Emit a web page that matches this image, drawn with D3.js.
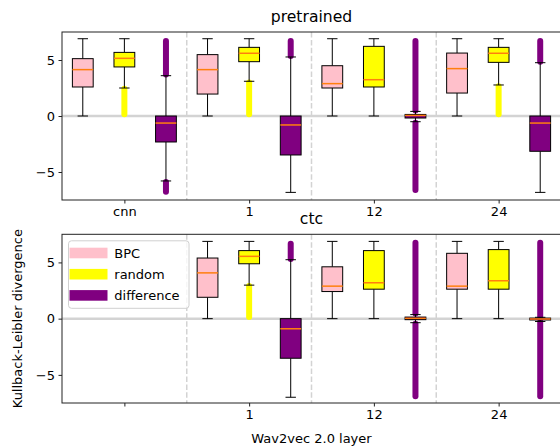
<!DOCTYPE html>
<html lang="en">
  <head>
    <meta charset="utf-8" />
    <title>KL divergence per layer</title>
    <script src="https://cdnjs.cloudflare.com/ajax/libs/d3/7.8.5/d3.min.js"></script>
    <style>
      body { margin: 0; background: #fff; }
      svg { display: block; font-family: "DejaVu Sans", sans-serif; }
    </style>
  </head>
  <body>
    <script>
      // categories
      var layers = ["cnn", "1", "12", "24"];
      var series = ["BPC", "random", "difference"];
      var colors = ["pink", "yellow", "purple"];
      var yTicks = [-5, 0, 5];

      // box stats: [whisker low, q1, median, q3, whisker high], null = no box
      var pretrainedBPC = [[0, 2.59, 4.14, 5.12, 6.9], [0, 1.96, 4.14, 5.48, 6.9], [0, 2.5, 2.89, 4.49, 6.9], [0, 2.05, 4.23, 5.62, 6.9]];
      var pretrainedRandom = [[2.5, 4.38, 5.15, 5.68, 6.9], [3.1, 4.85, 5.6, 6.13, 6.9], [0, 2.59, 3.24, 6.22, 6.9], [2.77, 4.79, 5.6, 6.13, 6.9]];
      var pretrainedDiff = [[-5.8, -2.32, -0.63, 0, 3.6], [-6.82, -3.48, -0.8, 0, 5.27], [-0.51, -0.18, 0.05, 0.14, 0.41], [-6.82, -3.15, -0.63, 0, 4.76]];
      var ctcBPC = [null, [0, 1.9, 4.07, 5.39, 6.87], [0, 2.41, 2.89, 4.61, 6.87], [0, 2.62, 2.89, 5.81, 6.87]];
      var ctcRandom = [null, [2.98, 4.88, 5.54, 6.05, 6.87], [0, 2.62, 3.19, 6.05, 6.87], [0, 2.62, 3.37, 6.14, 6.87]];
      var ctcDiff = [null, [-6.99, -3.52, -0.9, 0, 5.24], [-0.36, -0.09, 0.03, 0.14, 0.36], [-0.25, -0.12, -0.03, 0.05, 0.12]];

      // outlier ranges [low, high] (drawn as dense markers)
      var pretrainedBPCFliers = [[], [], [], []];
      var pretrainedRandomFliers = [[[0.15, 2.44]], [[0.15, 3.0]], [], [[0.15, 2.65]]];
      var pretrainedDiffFliers = [[[3.7, 6.7], [-6.76, -5.9]], [[5.35, 6.7]], [[0.5, 6.7], [-6.6, -0.6]], [[4.85, 6.7]]];
      var ctcBPCFliers = [[], [], [], []];
      var ctcRandomFliers = [[], [[0.15, 2.9]], [], []];
      var ctcDiffFliers = [[], [[5.3, 6.65]], [[0.45, 6.74], [-6.9, -0.45]], [[0.2, 6.74], [-6.9, -0.3]]];

      var W = 560, H = 447;
      var left = 62, right = 561;

      var svg = d3.select("body").append("svg").attr("width", W).attr("height", H);

      var x = d3.scaleLinear().domain([-0.5, 11.5]).range([left, right]);
      var boxW = x(0.5) - x(0);

      function panel(top, bottom, title, stats, fliers, tickLabels, legend) {
        var y = d3.scaleLinear().domain([-7.5, 7.5]).range([bottom, top]);
        var g = svg.append("g");

        // zero line
        g.append("line")
          .attr("x1", left).attr("x2", right)
          .attr("y1", y(0)).attr("y2", y(0))
          .attr("stroke", "#d3d3d3").attr("stroke-width", 2.5);

        // separators
        for (var k = 0; k < layers.length - 1; k++) {
          g.append("line")
            .attr("x1", x(3 * k + 2.5)).attr("x2", x(3 * k + 2.5))
            .attr("y1", top).attr("y2", bottom)
            .attr("stroke", "#d3d3d3").attr("stroke-width", 1.5)
            .attr("stroke-dasharray", "5.5,2.4");
        }

        for (var s = 0; s < series.length; s++) {
          for (var i = 0; i < layers.length; i++) {
            var cx = x(3 * i + s);
            // fliers
            fliers[s][i].forEach(function (r) {
              g.append("line")
                .attr("x1", cx).attr("x2", cx)
                .attr("y1", y(r[0])).attr("y2", y(r[1]))
                .attr("stroke", colors[s]).attr("stroke-width", 6)
                .attr("stroke-linecap", "round");
            });
            var d = stats[s][i];
            if (!d) continue;
            // whiskers
            g.append("line").attr("x1", cx).attr("x2", cx)
              .attr("y1", y(d[0])).attr("y2", y(d[1]))
              .attr("stroke", "#000").attr("stroke-width", 1);
            g.append("line").attr("x1", cx).attr("x2", cx)
              .attr("y1", y(d[3])).attr("y2", y(d[4]))
              .attr("stroke", "#000").attr("stroke-width", 1);
            [d[0], d[4]].forEach(function (v) {
              g.append("line")
                .attr("x1", cx - boxW / 4).attr("x2", cx + boxW / 4)
                .attr("y1", y(v)).attr("y2", y(v))
                .attr("stroke", "#000").attr("stroke-width", 1);
            });
            // box
            g.append("rect")
              .attr("x", cx - boxW / 2).attr("width", boxW)
              .attr("y", y(d[3])).attr("height", Math.max(y(d[1]) - y(d[3]), 0.5))
              .attr("fill", colors[s]).attr("stroke", "#000").attr("stroke-width", 1);
            // median
            g.append("line")
              .attr("x1", cx - boxW / 2).attr("x2", cx + boxW / 2)
              .attr("y1", y(d[2])).attr("y2", y(d[2]))
              .attr("stroke", "#ff7f0e").attr("stroke-width", 1.5);
          }
        }

        // frame
        g.append("rect")
          .attr("x", left).attr("y", top)
          .attr("width", right - left).attr("height", bottom - top)
          .attr("fill", "none").attr("stroke", "#222").attr("stroke-width", 1);

        // axes
        var yAxis = d3.axisLeft(y).tickValues(yTicks).tickSize(3.5).tickPadding(3.5)
          .tickFormat(function (v) { return v < 0 ? "\u2212" + Math.abs(v) : v; });
        var ya = g.append("g").attr("transform", "translate(" + left + ",0)").call(yAxis);
        var xAxis = d3.axisBottom(x).tickValues(layers.map(function (l, i) { return 3 * i + 1; }))
          .tickSize(3.5).tickPadding(3.5)
          .tickFormat(function (v, i) { return tickLabels[i]; });
        var xa = g.append("g").attr("transform", "translate(0," + bottom + ")").call(xAxis);
        [ya, xa].forEach(function (a) {
          a.select(".domain").remove();
          a.selectAll("line").attr("stroke", "#222");
          a.selectAll("text").attr("font-size", 13).attr("fill", "#000")
            .attr("font-family", "DejaVu Sans, sans-serif");
        });

        // title
        g.append("text")
          .attr("x", (left + right) / 2).attr("y", top - 10)
          .attr("text-anchor", "middle").attr("font-size", 15.6).text(title);

        if (legend) {
          var lg = g.append("g");
          lg.append("rect")
            .attr("x", 68.5).attr("y", 240.8).attr("width", 120.5).attr("height", 67.5)
            .attr("rx", 3).attr("fill", "#fff").attr("fill-opacity", 0.8)
            .attr("stroke", "#d0d0d0").attr("stroke-width", 1);
          series.forEach(function (name, j) {
            var cy = 253 + j * 21.2;
            lg.append("rect")
              .attr("x", 69.5).attr("y", cy - 5.3).attr("width", 38).attr("height", 10.6)
              .attr("fill", colors[j]);
            lg.append("text")
              .attr("x", 114.3).attr("y", cy).attr("dy", "0.35em")
              .attr("font-size", 13).text(name);
          });
        }
        return y;
      }

      panel(32, 200, "pretrained",
        [pretrainedBPC, pretrainedRandom, pretrainedDiff],
        [pretrainedBPCFliers, pretrainedRandomFliers, pretrainedDiffFliers],
        layers, false);
      panel(234.3, 403, "ctc",
        [ctcBPC, ctcRandom, ctcDiff],
        [ctcBPCFliers, ctcRandomFliers, ctcDiffFliers],
        ["", "1", "12", "24"], true);

      // axis labels
      svg.append("text")
        .attr("x", (left + right) / 2).attr("y", 438).attr("dy", "0.35em")
        .attr("text-anchor", "middle").attr("font-size", 13).text("Wav2vec 2.0 layer");
      svg.append("text")
        .attr("transform", "translate(17," + (234.3 + 403) / 2 + ") rotate(-90)")
        .attr("dy", "0.35em")
        .attr("text-anchor", "middle").attr("font-size", 13).text("Kullback-Leibler divergence");
    </script>
  </body>
</html>
